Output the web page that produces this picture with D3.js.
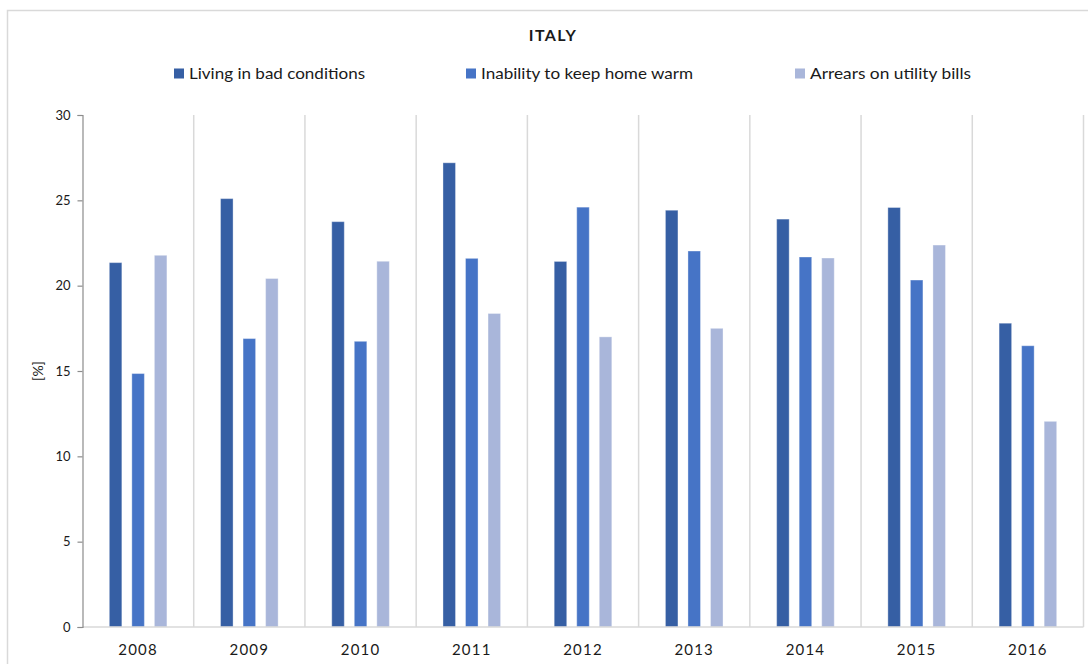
<!DOCTYPE html>
<html>
<head>
<meta charset="utf-8">
<script src="https://cdn.jsdelivr.net/npm/d3@7"></script>
<style>
  html, body { margin: 0; padding: 0; background: #fff; }
  svg { display: block; font-family: Lato, "Open Sans", sans-serif; }
</style>
</head>
<body>
<svg id="chart" width="1088" height="664"></svg>
<script>
// Energy poverty indicators for Italy, share of population (%)
const years = ["2008", "2009", "2010", "2011", "2012", "2013", "2014", "2015", "2016"];
const seriesNames = ["Living in bad conditions", "Inability to keep home warm", "Arrears on utility bills"];
const livingBad = [21.35, 25.1, 23.75, 27.2, 21.42, 24.42, 23.9, 24.58, 17.8];
const homeWarm = [14.85, 16.9, 16.74, 21.6, 24.6, 22.03, 21.68, 20.33, 16.48];
const arrears = [21.78, 20.42, 21.43, 18.37, 17.0, 17.5, 21.62, 22.38, 12.05];
const yTicks = [0, 5, 10, 15, 20, 25, 30];
const colors = ["#365fa4", "#4674c6", "#a9b6da"];

const svg = d3.select("#chart");
const margin = { left: 82.5, right: 1083.5, top: 115, bottom: 627 };

// Outer chart frame
svg.append("rect")
  .attr("x", 7.5).attr("y", 10.5)
  .attr("width", 1100).attr("height", 700)
  .attr("fill", "#fff").attr("stroke", "#d9d9d9").attr("stroke-width", 1.5);

const x = d3.scaleBand().domain(years).range([margin.left, margin.right]).padding(0);
const xInner = d3.scaleBand().domain(seriesNames).range([0, x.bandwidth()])
  .paddingInner(0.444).paddingOuter(1.19);
const y = d3.scaleLinear().domain([0, 30]).range([margin.bottom, margin.top]);

// Category separators
svg.append("g").selectAll("line")
  .data(years.slice(1).concat(["end"]))
  .join("line")
  .attr("x1", (d, i) => margin.left + x.bandwidth() * (i + 1))
  .attr("x2", (d, i) => margin.left + x.bandwidth() * (i + 1))
  .attr("y1", margin.top).attr("y2", margin.bottom)
  .attr("stroke", "#d9d9d9").attr("stroke-width", 1.5);

// Bars
const table = years.map((yr, i) => ({
  year: yr,
  values: [livingBad[i], homeWarm[i], arrears[i]]
}));
const groups = svg.append("g").selectAll("g")
  .data(table).join("g")
  .attr("transform", d => `translate(${x(d.year)},0)`);
groups.selectAll("rect")
  .data(d => d.values.map((v, k) => ({ name: seriesNames[k], v, k })))
  .join("rect")
  .attr("x", d => xInner(d.name))
  .attr("width", xInner.bandwidth())
  .attr("y", d => y(d.v))
  .attr("height", d => y(0) - y(d.v))
  .attr("fill", d => colors[d.k])
  .attr("stroke", "rgba(255,255,255,0.35)")
  .attr("stroke-width", 1);

// X axis baseline
svg.append("line")
  .attr("x1", margin.left).attr("x2", margin.right)
  .attr("y1", y(0)).attr("y2", y(0))
  .attr("stroke", "#d9d9d9").attr("stroke-width", 1.5);

// X labels
svg.append("g").selectAll("text")
  .data(years).join("text")
  .attr("x", d => x(d) + x.bandwidth() / 2)
  .attr("y", 655)
  .attr("text-anchor", "middle")
  .attr("font-size", 15)
  .attr("letter-spacing", 1.2)
  .attr("fill", "#1a1a1a")
  .text(d => d);

// Y axis
const yAxis = d3.axisLeft(y).tickValues(yTicks).tickSize(5).tickPadding(7);
const gy = svg.append("g").attr("transform", `translate(${margin.left},0)`).call(yAxis);
gy.select(".domain").attr("stroke", "#8c8c8c").attr("stroke-width", 1.2);
gy.selectAll(".tick line").attr("stroke", "#8c8c8c").attr("stroke-width", 1.2);
gy.selectAll(".tick text")
  .attr("font-family", "Lato, 'Open Sans', sans-serif")
  .attr("font-size", 13).attr("fill", "#1a1a1a");

// Y axis title
svg.append("text")
  .attr("transform", `translate(43,${(margin.top + margin.bottom) / 2}) rotate(-90)`)
  .attr("text-anchor", "middle")
  .attr("font-size", 14).attr("fill", "#1a1a1a")
  .text("[%]");

// Title
svg.append("text")
  .attr("x", 553).attr("y", 41)
  .attr("text-anchor", "middle")
  .attr("font-size", 16).attr("font-weight", "bold")
  .attr("letter-spacing", 1.4)
  .attr("fill", "#1a1a1a")
  .text("ITALY");

// Legend
const legendX = [174, 466, 795];
const legendW = [176, 212, 161];
const legend = svg.append("g").selectAll("g")
  .data(seriesNames).join("g")
  .attr("transform", (d, i) => `translate(${legendX[i]},0)`);
legend.append("rect")
  .attr("x", 0).attr("y", 68.5).attr("width", 10).attr("height", 10)
  .attr("fill", (d, i) => colors[i]);
legend.append("text")
  .attr("x", 15).attr("y", 79)
  .attr("font-size", 16).attr("fill", "#1a1a1a")
  .attr("textLength", (d, i) => legendW[i])
  .attr("lengthAdjust", "spacingAndGlyphs")
  .text(d => d);
</script>
</body>
</html>
